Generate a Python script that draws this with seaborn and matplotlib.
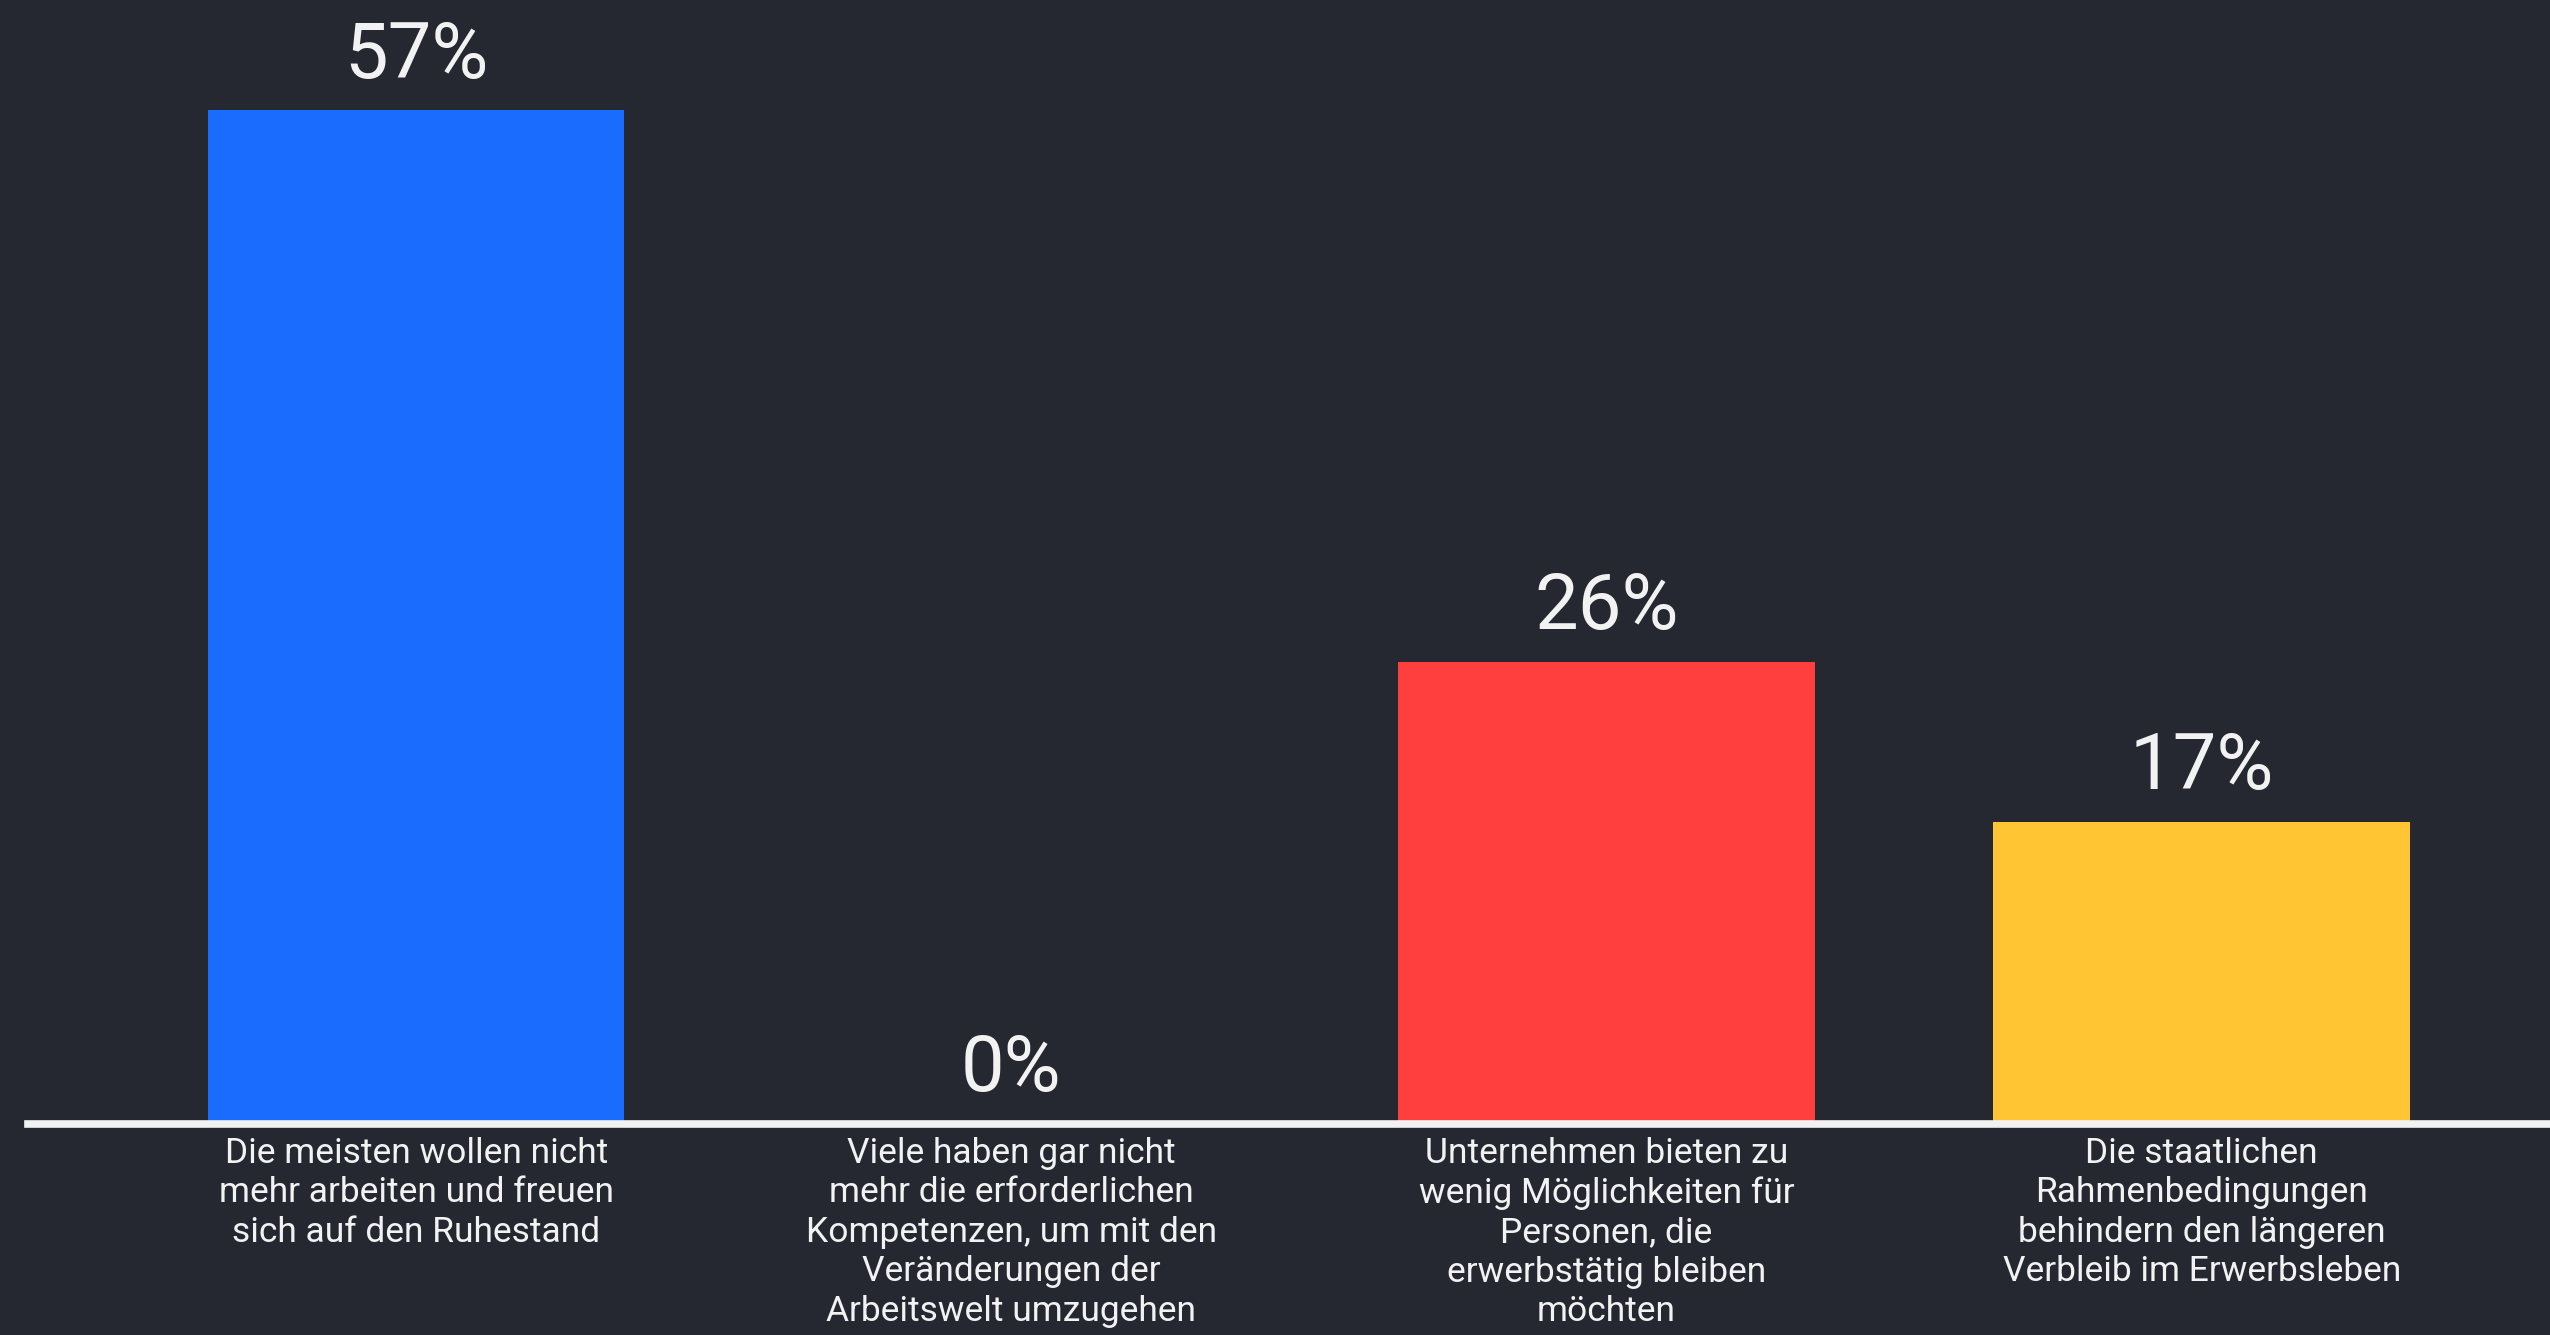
import matplotlib
matplotlib.use("Agg")
import matplotlib.pyplot as plt
import seaborn as sns
import pandas as pd

# data
categories = [
    "Die meisten wollen nicht\nmehr arbeiten und freuen\nsich auf den Ruhestand",
    "Viele haben gar nicht\nmehr die erforderlichen\nKompetenzen, um mit den\nVeränderungen der\nArbeitswelt umzugehen",
    "Unternehmen bieten zu\nwenig Möglichkeiten für\nPersonen, die\nerwerbstätig bleiben\nmöchten",
    "Die staatlichen\nRahmenbedingungen\nbehindern den längeren\nVerbleib im Erwerbsleben",
]
values = [57, 0, 26, 17]
colors = ["#1A6BFF", "#8C8C8C", "#FF3E3E", "#FFC533"]

bg = "#252830"
fg = "#F2F2F2"

df = pd.DataFrame({"cat": categories, "val": values})

sns.set_style("white")
plt.rcParams["font.family"] = ["Roboto", "DejaVu Sans"]

fig = plt.figure(figsize=(25.5, 13.35), dpi=100, facecolor=bg)
ax = fig.add_axes([0.011, 0.158, 0.989, 0.842])
ax.set_facecolor(bg)

sns.barplot(data=df, x="cat", y="val", hue="cat", palette=colors,
            legend=False, width=0.7, saturation=1, linewidth=0, ax=ax)

# value labels on top of bars
for c in ax.containers:
    ax.bar_label(c, labels=[f"{int(v)}%" for v in c.datavalues], padding=12,
                 fontsize=56, color=fg)

ax.set_xlim(-0.652, 3.585)
ax.set_ylim(0, 63.2)
ax.set_xlabel("")
ax.set_ylabel("")
ax.set_yticks([])

ax.tick_params(axis="x", length=0, pad=9)
for lbl in ax.get_xticklabels():
    lbl.set_fontsize(25.5)
    lbl.set_color(fg)
    lbl.set_linespacing(1.25)
    lbl.set_verticalalignment("top")

for s in ["top", "left", "right"]:
    ax.spines[s].set_visible(False)
ax.spines["bottom"].set_color(fg)
ax.spines["bottom"].set_linewidth(5.5)
ax.spines["bottom"].set_zorder(5)

fig.savefig("out.png", dpi=100, facecolor=bg)
